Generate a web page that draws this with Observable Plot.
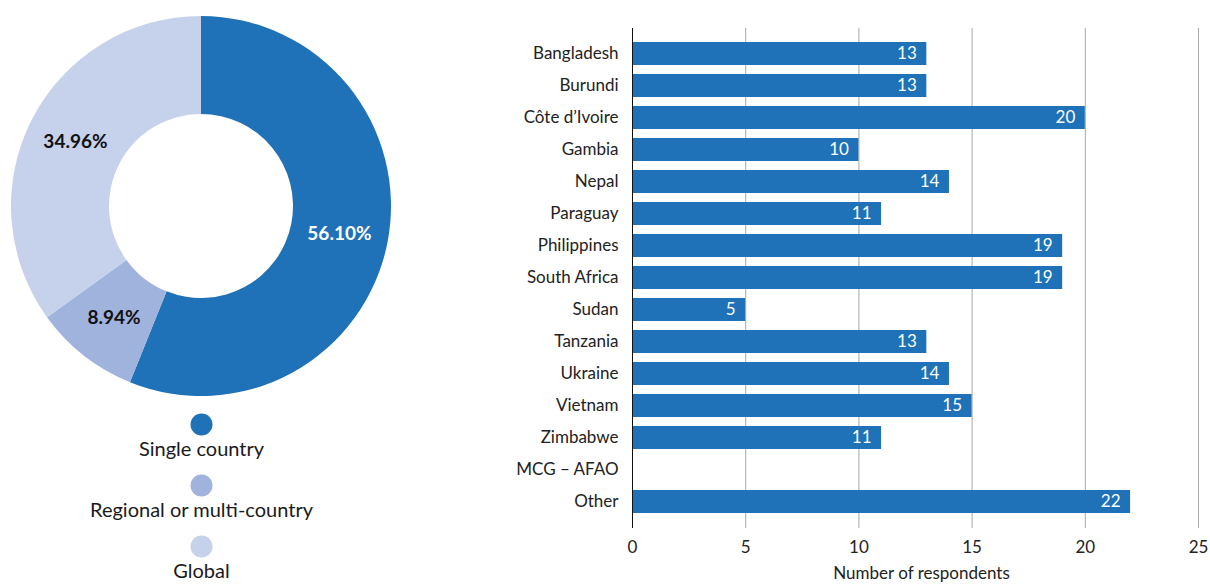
<!DOCTYPE html>
<html>
<head>
<meta charset="utf-8">
<script src="https://cdn.jsdelivr.net/npm/d3@7"></script>
<script src="https://cdn.jsdelivr.net/npm/@observablehq/plot@0.6"></script>
<style>
  html, body { margin: 0; padding: 0; background: #fff; }
  body { width: 1210px; height: 584px; position: relative; overflow: hidden; font-family: Lato, "Open Sans", sans-serif; }
  #donut { position: absolute; left: 0; top: 0; }
  #bars { position: absolute; left: 400px; top: 0; }
</style>
</head>
<body>
<div id="donut"></div>
<div id="bars"></div>
<script>
// ---- Donut data ----
const segments = ["Single country", "Regional or multi-country", "Global"];
const shares = [56.10, 8.94, 34.96];
const segmentColors = ["#1f71b8", "#a0b3dc", "#c6d1ec"];

// ---- Bar data ----
const countries = ["Bangladesh", "Burundi", "Côte d’Ivoire", "Gambia", "Nepal", "Paraguay", "Philippines",
  "South Africa", "Sudan", "Tanzania", "Ukraine", "Vietnam", "Zimbabwe", "MCG – AFAO", "Other"];
const respondents = [13, 13, 20, 10, 14, 11, 19, 19, 5, 13, 14, 15, 11, null, 22];
const xTicks = [0, 5, 10, 15, 20, 25];

const FONT = "Lato, 'Open Sans', sans-serif";

// ---- Donut + legend ----
const donutData = segments.map((s, i) => ({segment: s, share: shares[i]}));

function donutMark(index, scales, values, dimensions) {
  const cx = 201, cy = 206, r0 = 92, r1 = 190;
  const color = scales.color ? scales.color : (s) => segmentColors[segments.indexOf(s)];
  const pie = d3.pie().sort(null).value(d => d.share)(donutData);
  const arc = d3.arc().innerRadius(r0).outerRadius(r1);
  const labelArc = d3.arc().innerRadius(141).outerRadius(141);
  const g = d3.create("svg:g").attr("transform", `translate(${cx},${cy})`);
  g.selectAll("path").data(pie).join("path")
    .attr("d", arc)
    .attr("fill", d => color(d.data.segment));
  g.selectAll("text").data(pie).join("text")
    .attr("transform", d => `translate(${labelArc.centroid(d)})`)
    .attr("text-anchor", "middle")
    .attr("dy", "0.35em")
    .attr("font-family", FONT)
    .attr("font-weight", "bold")
    .attr("font-size", 19)
    .attr("fill", (d, i) => i === 0 ? "#fff" : "#111")
    .text(d => d.data.share.toFixed(2) + "%");
  return g.node();
}

const donutPlot = Plot.plot({
  width: 400,
  height: 584,
  margin: 0,
  style: {fontFamily: FONT, background: "transparent"},
  color: {domain: segments, range: segmentColors},
  y: {type: "point", domain: segments, range: [423, 546], padding: 0, axis: null},
  marks: [
    donutMark,
    Plot.dot(segments, {y: d => d, fill: d => d, r: 11, stroke: null, dx: 1}),
    Plot.text(segments, {y: d => d, text: d => d, dy: 25, dx: 1, fontSize: 20, fill: "#1a1a1a"})
  ]
});
document.getElementById("donut").appendChild(donutPlot);

// ---- Bar chart ----
const barData = countries.map((c, i) => ({country: c, value: respondents[i]}));

const barPlot = Plot.plot({
  width: 810,
  height: 584,
  marginLeft: 232,
  marginRight: 12,
  marginTop: 28,
  marginBottom: 56,
  style: {fontFamily: FONT, fontSize: "17px", color: "#222", background: "transparent"},
  x: {domain: [0, 25], ticks: xTicks},
  y: {domain: countries, padding: 0.28},
  marks: [
    Plot.gridX(xTicks, {stroke: "#a8a8a8", strokeOpacity: 1, strokeWidth: 1}),
    Plot.barX(barData, {x: "value", y: "country", fill: "#1f71b8"}),
    Plot.text(barData, {x: "value", y: "country", text: d => d.value == null ? null : String(d.value),
      textAnchor: "end", dx: -10, fill: "#fff", fontSize: 17}),
    Plot.ruleX([0], {stroke: "#111", strokeWidth: 1}),
    Plot.axisY({tickSize: 0, tickPadding: 14, fontSize: 17, label: null}),
    Plot.axisX(xTicks, {tickSize: 0, tickPadding: 12, fontSize: 17, label: null}),
    Plot.text(["Number of respondents"], {frameAnchor: "bottom", dy: 50, dx: 6, fontSize: 17, fill: "#222"})
  ]
});
document.getElementById("bars").appendChild(barPlot);
</script>
</body>
</html>
